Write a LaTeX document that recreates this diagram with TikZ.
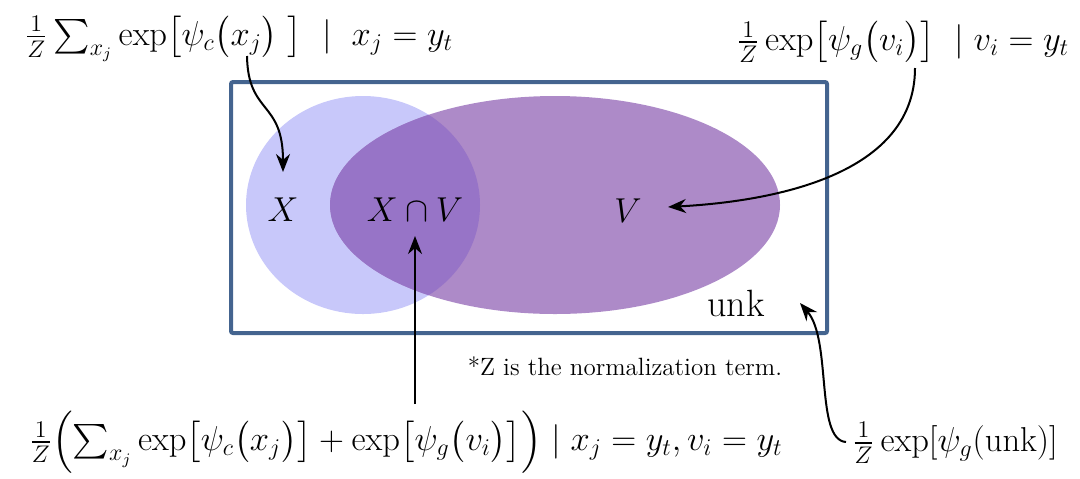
\documentclass[tikz,border=0pt]{standalone}
\usepackage{amsmath}
\usetikzlibrary{arrows.meta}
\definecolor{frameblue}{HTML}{44648F}
\definecolor{xfill}{HTML}{C8C8FA}
\definecolor{vfill}{HTML}{AD8AC8}
\definecolor{ifill}{HTML}{9774C7}
\tikzset{
  formula/.style={inner sep=0pt, font=\fontsize{17}{20}\selectfont},
  setlabel/.style={inner sep=0pt, font=\fontsize{17}{20}\selectfont},
  note/.style={inner sep=0pt, font=\fontsize{12.5}{15}\selectfont},
  conn/.style={line width=1pt, -{Stealth[length=9pt,width=7pt]}},
}
\begin{document}
\begin{tikzpicture}[x=0.5pt,y=-0.5pt]
\useasboundingbox (0,0) rectangle (1080,478);
% sets
\fill[xfill] (363,205) ellipse [x radius=117, y radius=109];
\fill[vfill] (555,205) ellipse [x radius=225, y radius=109];
\begin{scope}
  \clip (363,205) ellipse [x radius=117, y radius=109];
  \fill[ifill] (555,205) ellipse [x radius=225, y radius=109];
\end{scope}
\draw[frameblue, line width=2pt, rounded corners=1pt] (231,82) rectangle (827,333);
% labels
\node[setlabel] (lx) at (283,210) {$X$};
\node[setlabel] (lxv) at (415,210) {$X\cap V$};
\node[setlabel] (lv) at (628,211) {$V$};
\node[setlabel, font=\fontsize{19}{22}\selectfont] (lunk) at (736,303) {unk};
\node[note] (nt) at (625,366) {*Z is the normalization term.};
% formulas
\node[formula] (f1) at (239,39) {$\tfrac{1}{Z}\sum_{x_j}\exp\bigl[\psi_c\bigl(x_j\bigr)\ \bigr]\ \mid\ x_j = y_t$};
\node[formula] (f2) at (903,42) {$\tfrac{1}{Z}\exp\bigl[\psi_g\bigl(v_i\bigr)\bigr]\ \mid v_i = y_t$};
\node[formula] (f3) at (406,442) {$\tfrac{1}{Z}\Bigl(\sum_{x_j}\exp\bigl[\psi_c\bigl(x_j\bigr)\bigr] + \exp\bigl[\psi_g\bigl(v_i\bigr)\bigr]\Bigr)\mid x_j = y_t, v_i = y_t$};
\node[formula] (f4) at (955,443) {$\tfrac{1}{Z}\exp[\psi_g(\mathrm{unk})]$};
% connector endpoints
\coordinate (s1) at (247,56);
\coordinate (t1) at (283,172);
\coordinate (s2) at (915,68);
\coordinate (t2) at (668,207);
\coordinate (s3) at (415,404);
\coordinate (t3) at (415,236);
\coordinate (s4) at (846,442);
\coordinate (t4) at (800,303);
\draw[conn] (s1) .. controls (248,115) and (283,100) .. (t1);
\draw[conn] (s2) .. controls (915,180) and (760,202) .. (t2);
\draw[conn] (s3) -- (t3);
\draw[conn] (s4) .. controls (815,440) and (832,340) .. (t4);
\end{tikzpicture}
\end{document}
